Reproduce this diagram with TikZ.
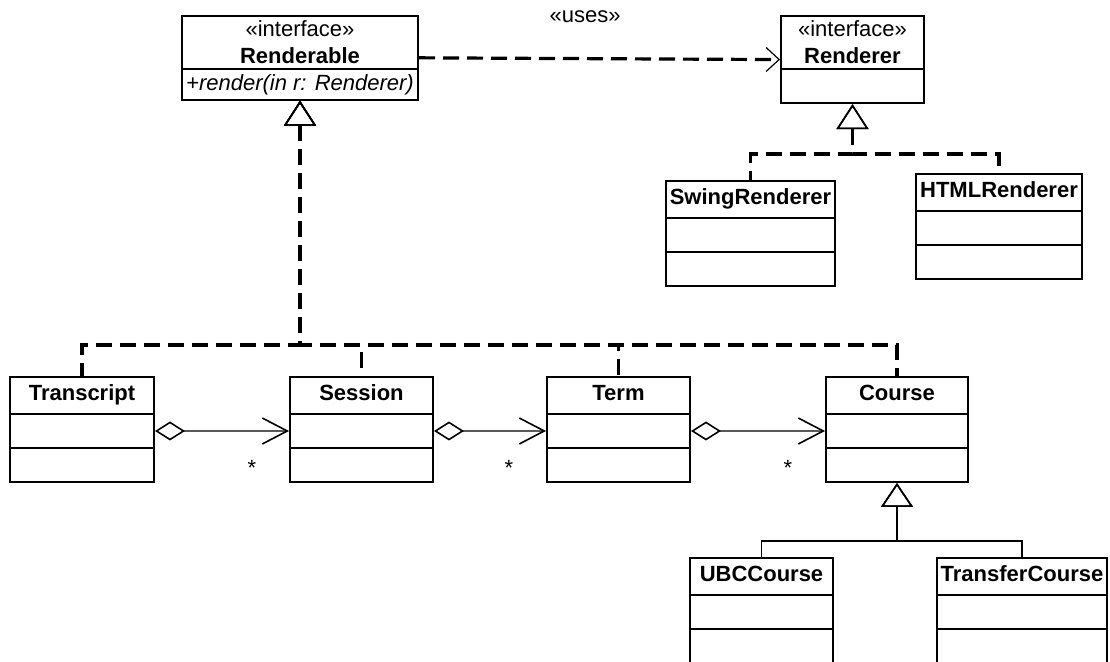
\documentclass[tikz,border=0pt]{standalone}
\usepackage{fontspec}
\setmainfont{Liberation Sans}
\usetikzlibrary{arrows.meta,calc,shapes.multipart}
\tikzset{
uml/.style={x=0.5pt,y=-0.5pt,font=\fontsize{11}{13.5}\selectfont},
umlclass/.style={rectangle split,rectangle split parts=#1,draw,line width=1pt,
anchor=north,align=center,inner xsep=2pt,inner ysep=2pt,
rectangle split empty part height=12pt,rectangle split empty part depth=0pt},
umlclass/.default=3,
uses/.style={line width=1.6pt,dash pattern=on 8pt off 4pt,
-{Straight Barb[length=6.5pt,width=12pt,line width=0.6pt]}},
realize/.style={line width=1.6pt,dash pattern=on 8pt off 4pt,
{Triangle[open,length=12.5pt,width=16pt,line width=0.8pt]}-},
inherit/.style={line width=0.6pt,
{Triangle[open,length=12pt,width=16pt,line width=0.8pt]}-},
aggregate/.style={draw=black!65,line width=0.6pt,
{Diamond[open,length=15pt,width=9.5pt,line width=0.8pt,color=black]}-{Straight Barb[length=12.5pt,width=13pt,line width=0.8pt,color=black]}},
mult/.style={inner sep=0pt,xshift=-18.5pt,yshift=-18.7pt},
}
\begin{document}
\begin{tikzpicture}[uml]
    \useasboundingbox (0,0) rectangle (1110,662);
    \node[umlclass=2] (renderable) at (300,15) [minimum width=118pt]
        {«interface»\\\textbf{Renderable}\nodepart{two}\textit{+render(in r: Renderer)}};
    \node[umlclass=2] (renderer) at (852.5,15) [minimum width=71.5pt]
        {«interface»\\\textbf{Renderer}\nodepart{two}};
    \node[umlclass] (swing) at (750.5,180) [minimum width=83.5pt]
        {\strut\textbf{SwingRenderer}\nodepart{two}\nodepart{three}};
    \node[umlclass] (html) at (999,173) [minimum width=82pt]
        {\strut\textbf{HTMLRenderer}\nodepart{two}\nodepart{three}};
    \node[umlclass] (transcript) at (82,376) [minimum width=72pt]
        {\strut\textbf{Transcript}\nodepart{two}\nodepart{three}};
    \node[umlclass] (session) at (361.5,376) [minimum width=71.5pt]
        {\strut\textbf{Session}\nodepart{two}\nodepart{three}};
    \node[umlclass] (term) at (618.5,376) [minimum width=71.5pt]
        {\strut\textbf{Term}\nodepart{two}\nodepart{three}};
    \node[umlclass] (course) at (897,376) [minimum width=71pt]
        {\strut\textbf{Course}\nodepart{two}\nodepart{three}};
    \node[umlclass] (ubc) at (761.5,557) [minimum width=71.5pt]
        {\strut\textbf{UBCCourse}\nodepart{two}\nodepart{three}};
    \node[umlclass] (transfer) at (1022,557) [minimum width=85pt]
        {\strut\textbf{TransferCourse}\nodepart{two}\nodepart{three}};

    \draw[uses] (renderable.east) -- (renderer.west) node[pos=0.46,yshift=21pt] {«uses»};

    \draw[realize] (renderable.south) |- ([yshift=15.5pt]transcript.north) -| (transcript.north);
    \draw[realize] (renderable.south) |- ([yshift=15.5pt]session.north) -| (session.north);
    \draw[realize] (renderable.south) |- ([yshift=15.5pt]term.north) -| (term.north);
    \draw[realize] (renderable.south) |- ([yshift=15.5pt]course.north) -| (course.north);
    \draw[realize] (renderer.south) |- ([yshift=13pt]swing.north) -| (swing.north);
    \draw[realize] (renderer.south) |- ([yshift=13pt]swing.north -| html.north) -| (html.north);

    \draw[aggregate] ($(transcript.one split east)!.5!(transcript.two split east)$)
        -- ($(session.one split west)!.5!(session.two split west)$) node[mult] {*};
    \draw[aggregate] ($(session.one split east)!.5!(session.two split east)$)
        -- ($(term.one split west)!.5!(term.two split west)$) node[mult] {*};
    \draw[aggregate] ($(term.one split east)!.5!(term.two split east)$)
        -- ($(course.one split west)!.5!(course.two split west)$) node[mult] {*};

    \draw[inherit] (course.south) |- ([yshift=8pt]ubc.north) -| (ubc.north);
    \draw[inherit] (course.south) |- ([yshift=8pt]transfer.north) -| (transfer.north);
\end{tikzpicture}
\end{document}
